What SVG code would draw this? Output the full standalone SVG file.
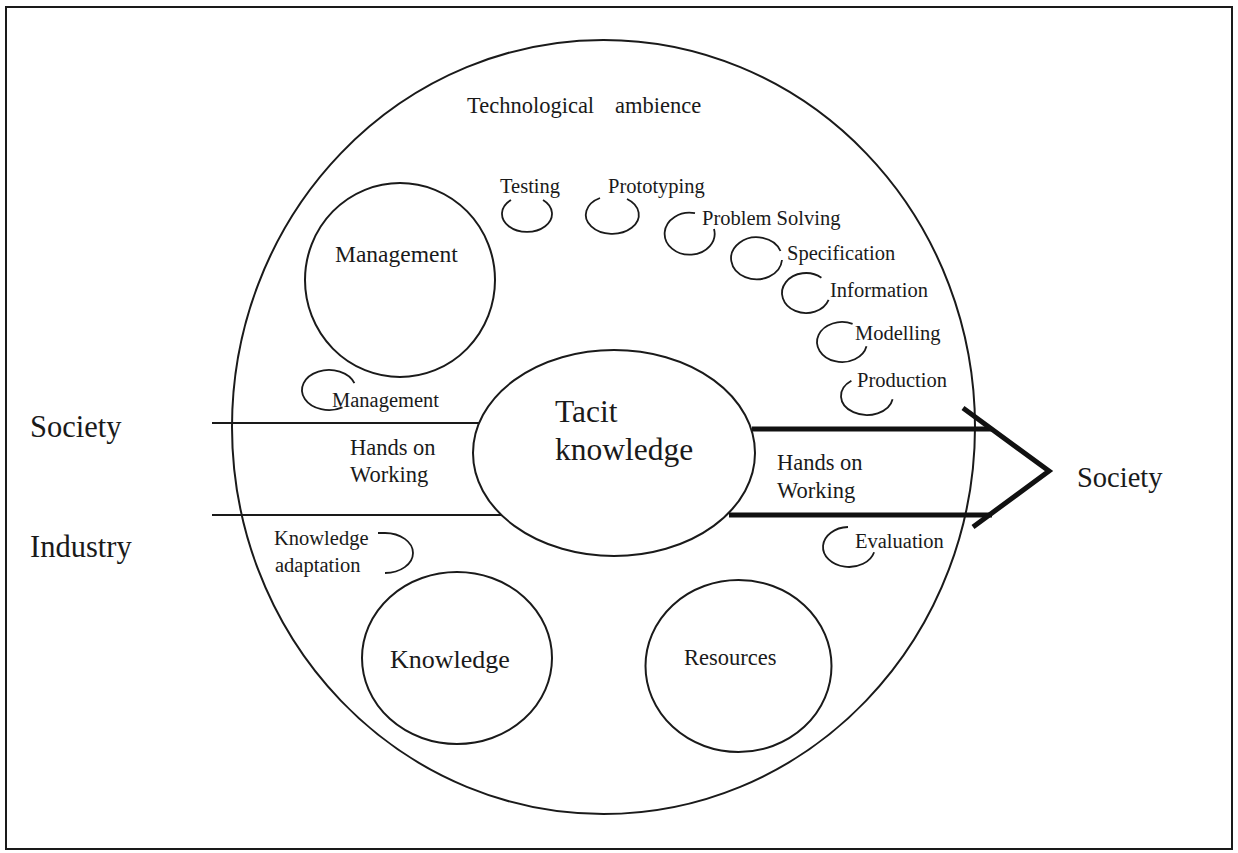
<svg xmlns="http://www.w3.org/2000/svg" width="1238" height="853" viewBox="0 0 1238 853">
  <style>
    .ln { fill: none; stroke: #1a1a1a; stroke-width: 2; }
    .arc { fill: none; stroke: #1a1a1a; stroke-width: 1.8; }
    .thick { fill: none; stroke: #111; stroke-width: 5; }
    text { font-family: "Liberation Serif", "Times New Roman", serif; fill: #1a1a1a; }
    .sm { font-size: 20.5px; }
    .md { font-size: 22.5px; }
  </style>
  <rect width="1238" height="853" fill="#ffffff"/>
  <!-- outer frame -->
  <rect x="6" y="7" width="1226" height="842" class="ln"/>

  <!-- technological ambience boundary -->
  <g id="ambience">
    <ellipse cx="603.5" cy="427" rx="371.5" ry="387" class="ln"/>
    <text class="md" x="467" y="113">Technological</text>
    <text class="md" x="615" y="113">ambience</text>
  </g>

  <g id="connectors">
    <line x1="212" y1="423" x2="479" y2="423" class="ln" stroke-width="1.6"/>
    <line x1="212" y1="515" x2="501" y2="515" class="ln" stroke-width="1.6"/>
    <line x1="752" y1="429" x2="992" y2="429" class="thick"/>
    <line x1="729" y1="515" x2="992" y2="515" class="thick"/>
    <polyline points="963,408 1049,471 973,527" class="thick"/>
  </g>

  <g id="tacit">
    <ellipse cx="614" cy="453" rx="141" ry="103" class="ln"/>
    <text x="555" y="422" font-size="31.5">Tacit</text>
    <text x="555" y="460" font-size="31.5">knowledge</text>
  </g>

  <g id="management">
    <ellipse cx="400" cy="280" rx="95" ry="97" class="ln"/>
    <text x="335" y="262" font-size="23.5">Management</text>
  </g>

  <g id="knowledge">
    <ellipse cx="457" cy="658" rx="95" ry="86" class="ln"/>
    <text x="390" y="668" font-size="26">Knowledge</text>
  </g>

  <g id="resources">
    <ellipse cx="738.5" cy="666" rx="93" ry="86" class="ln"/>
    <text x="684" y="665" font-size="22.5">Resources</text>
  </g>

  <g id="testing">
    <path d="M511 200 A25 18 0 1 0 543 200" class="arc"/>
    <text class="sm" x="500" y="193">Testing</text>
  </g>
  <g id="prototyping">
    <path d="M600 198 A26.5 19 0 1 0 627 199" class="arc"/>
    <text class="sm" x="608" y="193">Prototyping</text>
  </g>
  <g id="problem-solving">
    <path d="M695 213.2 A25 21 0 1 0 714 229" class="arc"/>
    <text class="sm" x="702" y="225">Problem  Solving</text>
  </g>
  <g id="specification">
    <path d="M780.5 251 A25.5 21 0 1 0 782 260" class="arc"/>
    <text class="sm" x="787" y="260">Specification</text>
  </g>
  <g id="information">
    <path d="M821.4 277.7 A24 20 0 1 0 828.6 299.8" class="arc"/>
    <text class="sm" x="830" y="297">Information</text>
  </g>
  <g id="modelling">
    <path d="M852.6 323.9 A25 20 0 1 0 866.5 346.2" class="arc"/>
    <text class="sm" x="855" y="340">Modelling</text>
  </g>
  <g id="production">
    <path d="M851.4 380.8 A26 19 0 1 0 892.6 399.3" class="arc"/>
    <text class="sm" x="857" y="387">Production</text>
  </g>
  <g id="evaluation">
    <path d="M848 527 A26 20 0 1 0 874.1 552.2" class="arc"/>
    <text class="sm" x="855" y="548">Evaluation</text>
  </g>
  <g id="management-small">
    <path d="M354.4 383.2 A27 20 0 1 0 342.5 407.3" class="arc"/>
    <text class="sm" x="332" y="407">Management</text>
  </g>
  <g id="knowledge-adaptation">
    <path d="M378 533 L385 533 A28 20 0 0 1 385 573" class="arc"/>
    <text class="sm" x="274" y="545">Knowledge</text>
    <text class="sm" x="275" y="572">adaptation</text>
  </g>

  <g id="hands-left">
    <text class="md" x="350" y="455">Hands on</text>
    <text class="md" x="350" y="482">Working</text>
  </g>
  <g id="hands-right">
    <text class="md" x="777" y="470">Hands on</text>
    <text class="md" x="777" y="498">Working</text>
  </g>

  <g id="society-left"><text x="30" y="437" font-size="30.5">Society</text></g>
  <g id="industry"><text x="30" y="557" font-size="30.5">Industry</text></g>
  <g id="society-right"><text x="1077" y="487" font-size="28.5">Society</text></g>
</svg>
